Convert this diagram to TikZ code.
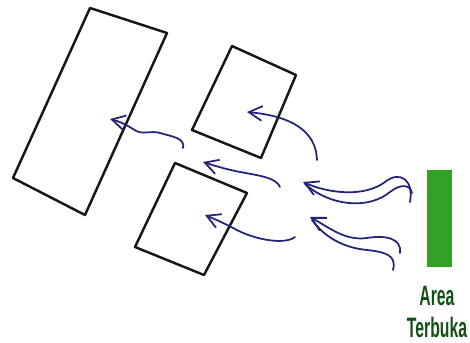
\documentclass[tikz,border=0pt]{standalone}
\usepackage{fontspec}
\usetikzlibrary{arrows.meta}
\newfontfamily\labelfont{Liberation Sans}
\definecolor{InkBlack}{RGB}{22,22,22}
\definecolor{InkBlue}{RGB}{34,36,120}
\definecolor{MarkerGreen}{RGB}{50,160,36}
\definecolor{LabelGreen}{RGB}{18,80,22}

\begin{document}
\begin{tikzpicture}[x=0.03cm, y=-0.03cm,
    box/.style={draw=InkBlack, line width=2.1pt, line join=round},
    flow/.style={draw=InkBlue, line width=1.5pt, line cap=round,
                 -{Straight Barb[length=4mm,width=4.4mm,line width=1.5pt]}},
    tail/.style={draw=InkBlue, line width=1.5pt, line cap=round}]
  \useasboundingbox (0,0) rectangle (470,343);

  % buildings
  \draw[box] (90,8) -- (167,33) -- (85,215) -- (13,178) -- cycle;
  \draw[box] (232,46) -- (296,75) -- (261,158) -- (192,130) -- cycle;
  \draw[box] (175,163) -- (247,193) -- (204,275) -- (135,247) -- cycle;

  % open area
  \node[fill=MarkerGreen, minimum width=0.75cm, minimum height=2.9cm,
        inner sep=0pt] (area) at (439.5,218.5) {};
  \node[LabelGreen, font=\labelfont\bfseries\fontsize{24}{27}\selectfont,
        xscale=0.56, transform shape, align=center, inner sep=0pt]
        (label) at (437,312) {Area\\Terbuka};

  % wind ends
  \coordinate (w1) at (183,148);  \coordinate (t1) at (110,119);
  \coordinate (w2) at (317,160);  \coordinate (t2) at (247,112);
  \coordinate (w3) at (280,187);  \coordinate (t3) at (203,162);
  \coordinate (w4) at (295,237);  \coordinate (t4) at (205,215);
  \coordinate (tu) at (303,182);  \coordinate (tl) at (310,217);

  \draw[flow] (w1) .. controls (186,138) and (170,136) .. (160,133)
    .. controls (150,130) and (142,136) .. (133,129) .. controls (125,124) and (118,121) .. (t1);
  \draw[flow] (w2) .. controls (316,130) and (290,116) .. (t2);
  \draw[flow] (w3) .. controls (276,178) and (262,176) .. (240,172)
    .. controls (225,169) and (212,165) .. (t3);
  \draw[flow] (w4) .. controls (285,245) and (255,240) .. (235,229)
    .. controls (222,222) and (212,218) .. (t4);

  % incoming wind from the open area
  \draw[flow] (410,202) .. controls (414,180) and (400,170) .. (385,182)
    .. controls (365,197) and (330,194) .. (tu);
  \draw[tail] (412,193) .. controls (410,184) and (400,184) .. (390,192)
    .. controls (368,210) and (330,206) .. (305,184);
  \draw[flow] (400,253) .. controls (402,238) and (385,235) .. (367,238)
    .. controls (345,241) and (330,228) .. (tl);
  \draw[tail] (393,270) .. controls (397,255) and (385,252) .. (367,250)
    .. controls (345,248) and (325,238) .. (312,220);
\end{tikzpicture}
\end{document}
